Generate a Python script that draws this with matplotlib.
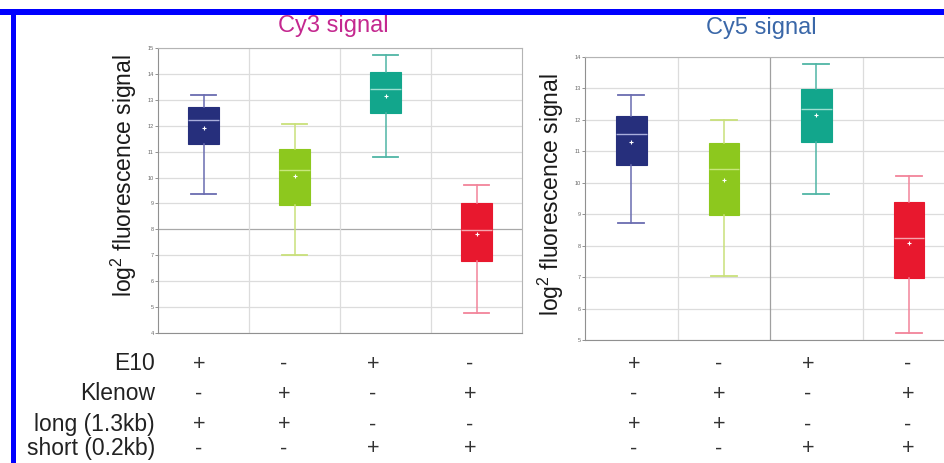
import matplotlib
matplotlib.use("Agg")
import matplotlib.pyplot as plt
from matplotlib.patches import Rectangle

plt.rcParams['font.family'] = ['Liberation Sans', 'DejaVu Sans']
plt.rcParams['mathtext.default'] = 'regular'

# ---------------- data ----------------
groups = ["1", "2", "3", "4"]
# Cy3 signal
cy3_whislo = [9.37, 7.02, 10.80, 4.78]
cy3_q1     = [11.31, 8.95, 12.48, 6.79]
cy3_med    = [12.24, 10.30, 13.41, 7.99]
cy3_q3     = [12.74, 11.12, 14.06, 9.01]
cy3_whishi = [13.19, 12.06, 14.73, 9.72]
cy3_mean   = [11.90, 10.05, 13.15, 7.82]
# Cy5 signal
cy5_whislo = [8.72, 7.03, 9.64, 5.23]
cy5_q1     = [10.55, 8.99, 11.30, 6.96]
cy5_med    = [11.55, 10.45, 12.34, 8.23]
cy5_q3     = [12.11, 11.27, 12.97, 9.39]
cy5_whishi = [12.78, 12.01, 13.79, 10.23]
cy5_mean   = [11.31, 10.08, 12.15, 8.07]

cy3_yticks = list(range(4, 16))
cy5_yticks = list(range(5, 15))

row_labels = ["E10", "Klenow", "long (1.3kb)", "short (0.2kb)"]
row_signs = [
    ["+", "-", "+", "-"],
    ["-", "+", "-", "+"],
    ["+", "+", "-", "-"],
    ["-", "-", "+", "+"],
]

# ---------------- style ----------------
box_colors     = ["#262f7c", "#8dc81e", "#12a68c", "#e8182e"]
whisker_colors = ["#6a6cb0", "#c9e07a", "#4fb5a5", "#f2849a"]
median_colors  = ["#a9aedc", "#c8e77c", "#9fe0d2", "#f6a4ad"]

W, H = 945, 463
fig = plt.figure(figsize=(W / 100, H / 100), dpi=100)

def px_axes(x0, y0, x1, y1):
    return fig.add_axes([x0 / W, 1 - y1 / H, (x1 - x0) / W, (y1 - y0) / H])

ax1 = px_axes(158, 48, 522, 333)
ax2 = px_axes(585, 57, 945, 340)

def draw(ax, wl, q1, med, q3, wh, mean, yticks, xmax, dark_h=None, dark_v=None):
    for i in range(len(groups)):
        st = dict(whislo=wl[i], q1=q1[i], med=med[i], q3=q3[i],
                  whishi=wh[i], mean=mean[i], fliers=[], label=groups[i])
        ax.bxp([st], positions=[i + 1], widths=0.33, patch_artist=True,
               showmeans=True, showfliers=False, capwidths=0.28,
               boxprops=dict(facecolor=box_colors[i], edgecolor=box_colors[i], linewidth=0.8),
               whiskerprops=dict(color=whisker_colors[i], linewidth=1.1),
               capprops=dict(color=whisker_colors[i], linewidth=1.3),
               medianprops=dict(color=median_colors[i], linewidth=1.0),
               meanprops=dict(marker='+', markersize=3, markeredgecolor='white',
                              markeredgewidth=0.8),
               zorder=3)
    ax.set_xlim(0.5, xmax)
    ax.set_ylim(yticks[0], yticks[-1])
    ax.set_yticks(yticks)
    ax.set_yticklabels([str(t) for t in yticks])
    ax.set_xticks([])
    ax.tick_params(axis='y', labelsize=4, colors='#666666', length=2, width=0.5, pad=1)
    for t in yticks:
        c = '#a8a8a8' if t == dark_h else '#dcdcdc'
        ax.axhline(t, color=c, linewidth=0.9, zorder=1)
    for v in [1.5, 2.5, 3.5]:
        c = '#a0a0a0' if v == dark_v else '#dcdcdc'
        ax.axvline(v, color=c, linewidth=0.9, zorder=1)
    for s in ax.spines.values():
        s.set_color('#b4b4b4')
        s.set_linewidth(0.8)
    ax.spines['left'].set_color('#909090')
    ax.spines['bottom'].set_color('#909090')

draw(ax1, cy3_whislo, cy3_q1, cy3_med, cy3_q3, cy3_whishi, cy3_mean,
     cy3_yticks, 4.5, dark_h=8)
draw(ax2, cy5_whislo, cy5_q1, cy5_med, cy5_q3, cy5_whishi, cy5_mean,
     cy5_yticks, 4.39, dark_v=2.5)

fig.text(333 / W, 1 - 26 / H, "Cy3 signal", color="#c4288f", fontsize=17,
         ha='center', va='center')
fig.text(761 / W, 1 - 28 / H, "Cy5 signal", color="#3a67a8", fontsize=17,
         ha='center', va='center')

fig.text(124 / W, 1 - 176 / H, "log$^2$ fluorescence signal", rotation=90,
         fontsize=16.5, ha='center', va='center', color='#1a1a1a')
fig.text(551 / W, 1 - 195 / H, "log$^2$ fluorescence signal", rotation=90,
         fontsize=16.5, ha='center', va='center', color='#1a1a1a')

# condition table
row_y = [364, 394, 425, 449]
left_cols = [199, 284, 373, 470]
right_cols = [634, 719, 808, 908]
for r, lab in enumerate(row_labels):
    fig.text(155 / W, 1 - row_y[r] / H, lab, fontsize=16.5, ha='right',
             va='center', color='#222222')
    for c, s in enumerate(row_signs[r]):
        for cols in (left_cols, right_cols):
            fig.text(cols[c] / W, 1 - row_y[r] / H, s, fontsize=15.5,
                     ha='center', va='center', color='#333333')

# blue frame
fig.add_artist(Rectangle((0, 1 - 14.5 / H), 1, 5.5 / H, transform=fig.transFigure,
                         facecolor='#0000ff', edgecolor='none'))
fig.add_artist(Rectangle((11 / W, 0), 5 / W, 1 - 9 / H, transform=fig.transFigure,
                         facecolor='#0000ff', edgecolor='none'))

fig.savefig("out.png", dpi=100)
